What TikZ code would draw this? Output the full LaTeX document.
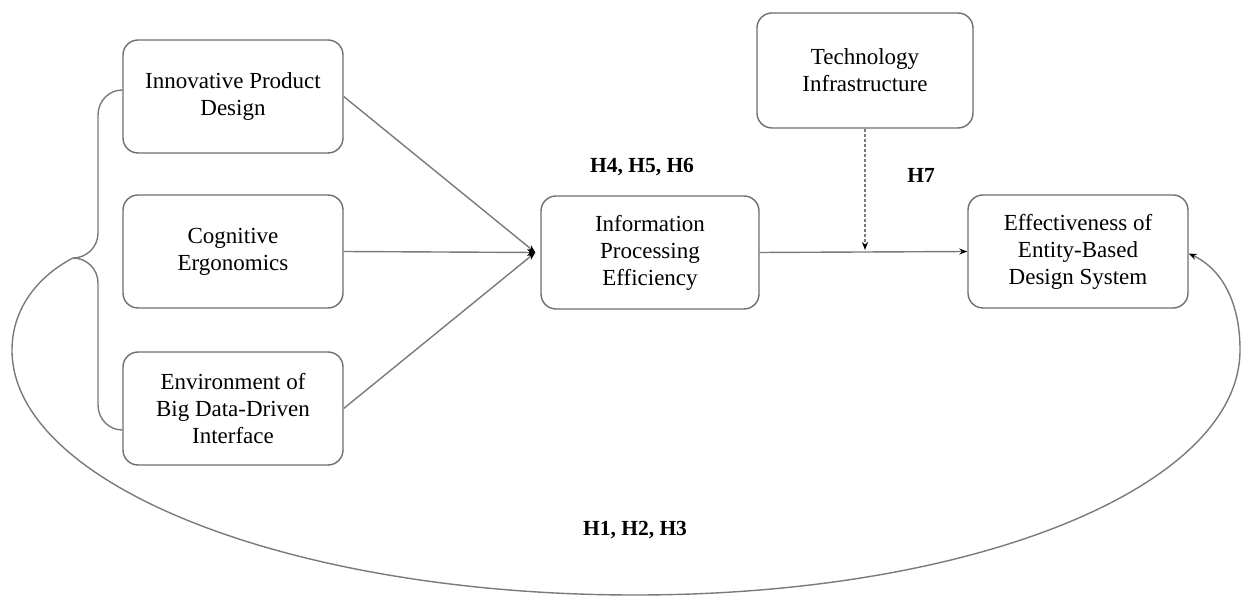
\documentclass[tikz,border=0pt]{standalone}
\usepackage{fontspec}
\setmainfont{Liberation Serif}
\newfontfamily\tnr{Liberation Serif}
\usetikzlibrary{arrows.meta,calc}
\definecolor{boxline}{HTML}{6E6E6E}
\definecolor{conline}{HTML}{7A7A7A}
\tikzset{
  box/.style={draw=boxline, line width=1.4pt, rounded corners=15pt, fill=white,
    minimum width=220pt, minimum height=113pt, align=center, inner sep=0pt,
    font=\tnr\fontsize{23}{27}\selectfont},
  conn/.style={draw=conline, line width=1.4pt},
  tip/.style={-{Stealth[length=8pt,width=6pt,black]}},
  hlabel/.style={font=\tnr\fontsize{21.5}{26}\selectfont\bfseries}
}
\begin{document}
\begin{tikzpicture}[x=1pt,y=1pt]
\useasboundingbox (0,0) rectangle (1244,597);
\node[box] (ipd) at (233,500.5) {Innovative Product\\Design};
\node[box] (cog) at (233,345.5) {Cognitive\\Ergonomics};
\node[box] (env) at (233,188.5) {Environment of\\Big Data-Driven\\Interface};
\node[box, minimum width=218pt] (ipe) at (650,344.5) {Information\\Processing\\Efficiency};
\node[box, minimum width=216pt, minimum height=115pt] (tech) at (865,526.5) {Technology\\Infrastructure};
\node[box] (eff) at (1078,345.5) {Effectiveness of\\Entity-Based\\Design System};

\coordinate (conv) at ($(ipe.west)+(-5,0)$);
\coordinate (mod) at (865,347);
\coordinate (btip) at (73,339);

\draw[conn,tip] (ipd.east) -- (conv);
\draw[conn,tip] (cog.east) -- (conv);
\draw[conn,tip] (env.east) -- (conv);
\draw[conn,tip] (ipe.east) -- (eff.west);
\draw[conn,dashed,dash pattern=on 3pt off 2pt,tip] (tech.south) -- (mod);

% brace
\draw[conn] ($(ipd.west)+(0,6.5)$) to[out=180,in=90] (98,482) -- (98,364)
  to[out=270,in=0] (btip) to[out=0,in=90] (98,314) -- (98,192)
  to[out=270,in=180] ($(env.west)+(0,-21.5)$);

% big curve
\draw[conn,tip] (btip) .. controls (40,322) and (12,290) .. (12,247)
  .. controls (12,112) and (291,2) .. (635,2)
  .. controls (979,2) and (1240,112) .. (1240,247)
  .. controls (1240,300) and (1218,330) .. ($(eff.east)+(0,-2)$);

\node[hlabel] (h456) at (642,430) {H4, H5, H6};
\node[hlabel] (h7) at (921,422) {H7};
\node[hlabel] (h123) at (635,67) {H1, H2, H3};
\end{tikzpicture}
\end{document}
